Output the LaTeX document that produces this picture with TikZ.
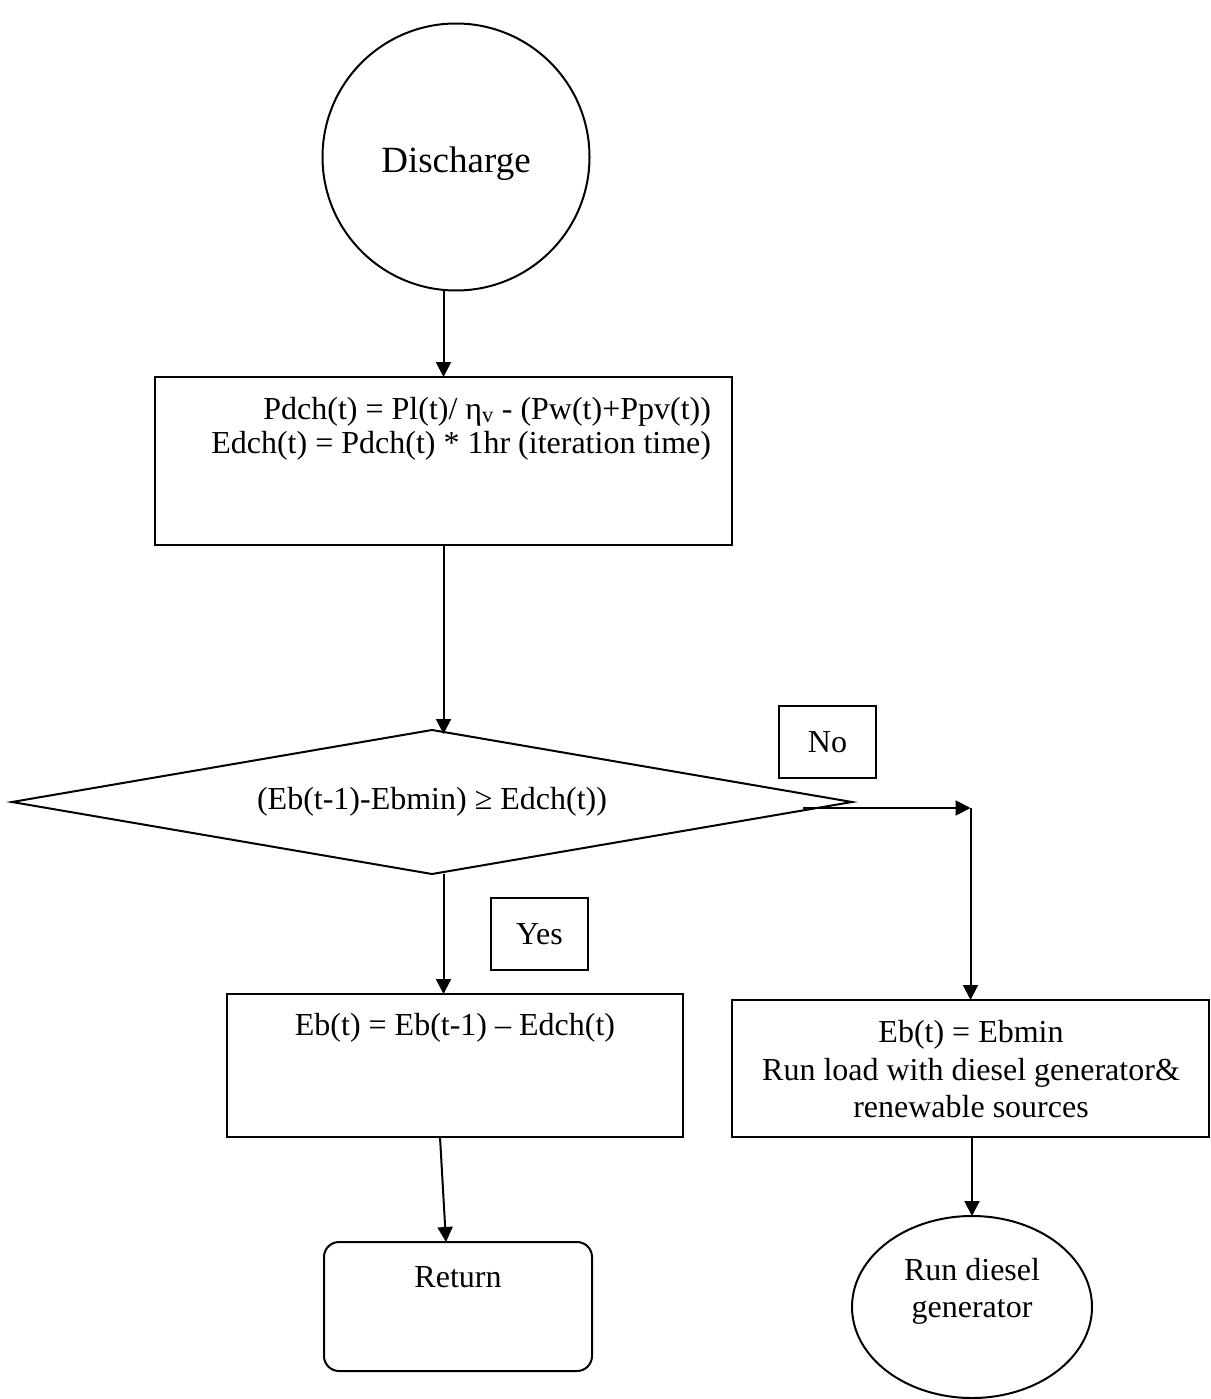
\documentclass[tikz,border=0pt]{standalone}
\usepackage{fontspec}
\setmainfont{Liberation Serif}
\usetikzlibrary{shapes.geometric,arrows.meta}
\begin{document}
\begin{tikzpicture}[x=1pt,y=-1pt,
  line width=2pt,
  every node/.style={inner sep=0pt, outer sep=0pt},
  body/.style={font=\fontsize{32}{37}\selectfont},
  txt/.style={body, anchor=base},
  frame/.style={draw, rectangle, line width=2pt},
  flow/.style={-{Triangle[length=15pt,width=15pt]}, line width=2pt},
]
\useasboundingbox (0,0) rectangle (1210,1399);
\fill[white] (0,0) rectangle (1210,1399);

% start terminal
\node[draw, circle, minimum size=267pt] (start) at (456,157) {};
\node[anchor=base, font=\fontsize{37}{42}\selectfont] (startlbl) at (456,173) {Discharge};

% discharge power and energy
\node[frame, minimum width=577pt, minimum height=168pt] (calc) at (443.5,461) {};
\node[txt, anchor=base east] (calcA) at (711,419) {Pdch(t) = Pl(t)/ η\textsubscript{v} - (Pw(t)+Ppv(t))};
\node[txt, anchor=base east] (calcB) at (711,453) {Edch(t) = Pdch(t) * 1hr (iteration time)};

% decision
\node[draw, diamond, shape aspect=5.83, minimum width=840pt, minimum height=144pt, body] (test) at (432,802) {(Eb(t-1)-Ebmin) ≥ Edch(t))};

% branch labels
\node[frame, minimum width=97pt, minimum height=72pt, body] (nolbl) at (827.5,742) {No};
\node[frame, minimum width=97pt, minimum height=72pt, body] (yeslbl) at (539.5,934) {Yes};

% outcome boxes
\node[frame, minimum width=456pt, minimum height=143pt] (update) at (455,1065.5) {};
\node[txt] (updatelbl) at (455,1035) {Eb(t) = Eb(t-1) – Edch(t)};

\node[frame, minimum width=477pt, minimum height=137pt] (diesel) at (970.5,1068.5) {};
\node[txt] (dieselA) at (971,1042) {Eb(t) = Ebmin};
\node[txt] (dieselB) at (971,1080) {Run load with diesel generator\&};
\node[txt] (dieselC) at (971,1117) {renewable sources};

% end terminals
\node[draw, rectangle, rounded corners=15pt, minimum width=268pt, minimum height=129pt] (ret) at (458,1306.5) {};
\node[txt] (retlbl) at (458,1287) {Return};
\node[draw, ellipse, minimum width=240pt, minimum height=182pt] (gen) at (972,1307) {};
\node[txt] (genA) at (972,1280) {Run diesel};
\node[txt] (genB) at (972,1317) {generator};

% connectors
\coordinate (nostart) at (803,808);
\coordinate (nofork) at (diesel.north |- nostart);

\draw[flow] (start.south -| calc.north) -- (calc.north);
\draw[flow, shorten >=-4pt] (calc.south) -- (calc.south |- test.north);
\draw[flow] (calc.south |- test.south) -- (calc.south |- update.north);
\draw[flow] (nostart) -- (nofork);
\draw[flow] (nofork) -- (diesel.north);
\draw[flow] ([xshift=-15pt]update.south) -- ([xshift=-12pt]ret.north);
\draw[flow] (gen.north |- diesel.south) -- (gen.north);
\end{tikzpicture}
\end{document}
